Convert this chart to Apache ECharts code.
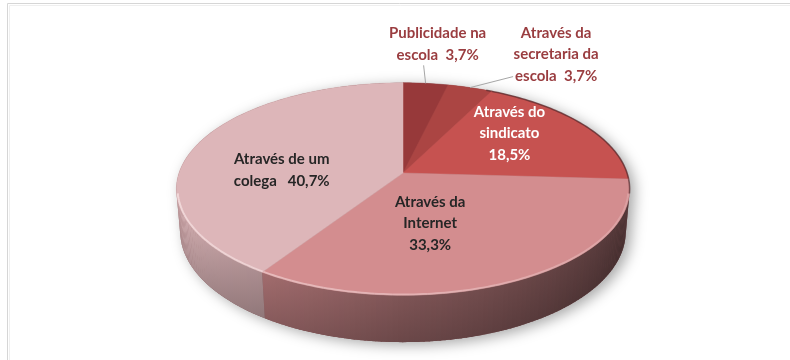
<!DOCTYPE html>
<html>
<head>
<meta charset="utf-8">
<script src="https://cdn.jsdelivr.net/npm/echarts@6/dist/echarts.min.js"></script>
<style>
  html, body { margin: 0; padding: 0; background: #ffffff; }
  #chart { width: 790px; height: 360px; }
</style>
</head>
<body>
<div id="chart"></div>
<script>
// Como os professores souberam da formação
const categories = [
  'Publicidade na\nescola',
  'Através da\nsecretaria da\nescola',
  'Através do\nsindicato',
  'Através da\nInternet',
  'Através de um\ncolega'
];
const values = [3.7, 3.7, 18.5, 33.3, 40.7];
// text placed between the category name and its percentage
const valueSeparators = ['  ', '  ', '\n', '\n', '   '];

// slice styling
const sliceColors = ['#97393a', '#ab4543', '#c65250', '#d38d8f', '#ddb6b9'];
const labelColors = ['#9a3d40', '#9a3d40', '#ffffff', '#262626', '#262626'];
// label anchor: fraction of radius along the slice mid-angle, then a pixel nudge
const labelPlacement = [
  { r: 1.0,  dx: 12,  dy: -39, leader: [-14, 21] },
  { r: 1.0,  dx: 86,  dy: -33, leader: [-43, 22] },
  { r: 0.55, dx: 4,   dy: -12, leader: null },
  { r: 0.45, dx: -21, dy: 6,   leader: null },
  { r: 0.55, dx: -6,  dy: 13,  leader: null }
];

// perspective camera for the tilted disc
const cam = {
  cx: 403, cy: 173, f: 1315, D: 5.87,
  elev: 27.6 * Math.PI / 180, depth: 0.215
};
const sinE = Math.sin(cam.elev), cosE = Math.cos(cam.elev);
// side wall faces the camera where cos(theta) < -1/(D cosE)
const wallFrom = Math.acos(-1 / (cam.D * cosE)) * 180 / Math.PI;
const wallTo = 360 - wallFrom;

function project(thetaDeg, r, z) {
  const t = thetaDeg * Math.PI / 180;
  const X = r * Math.sin(t), Y = r * Math.cos(t);
  const v = Y * sinE + z * cosE;
  const w = cam.D + Y * cosE - z * sinE;
  return [cam.cx + cam.f * X / w, cam.cy - cam.f * v / w];
}

const total = values.reduce((a, b) => a + b, 0);
const cumulative = [0];
values.forEach((v, i) => cumulative.push(cumulative[i] + v));
const angleOf = (c) => c / total * 360;

// brightness of the outer wall by angle (lit from the left)
const wallLight = [[101, 0.33], [140, 0.43], [180, 0.56], [213, 0.72], [240, 0.85], [260, 0.92]];
function lightAt(theta) {
  if (theta <= wallLight[0][0]) return wallLight[0][1];
  for (let i = 1; i < wallLight.length; i++) {
    if (theta <= wallLight[i][0]) {
      const [a, ka] = wallLight[i - 1], [b, kb] = wallLight[i];
      return ka + (kb - ka) * (theta - a) / (b - a);
    }
  }
  return wallLight[wallLight.length - 1][1];
}
function shade(hex, k) {
  const n = parseInt(hex.slice(1), 16);
  const c = [(n >> 16) & 255, (n >> 8) & 255, n & 255].map(x => Math.max(0, Math.min(255, Math.round(x * k))));
  return 'rgb(' + c.join(',') + ')';
}

function arcPoints(a0, a1, r, z, step) {
  const pts = [];
  const n = Math.max(1, Math.ceil((a1 - a0) / step));
  for (let j = 0; j <= n; j++) pts.push(project(a0 + (a1 - a0) * j / n, r, z));
  return pts;
}

function renderSlice(params, api) {
  const i = params.dataIndex;
  const a0 = angleOf(cumulative[i]);
  const a1 = angleOf(cumulative[i] + api.value(0));
  const base = sliceColors[i];
  const children = [];

  if (i === 0) {
    // silhouette of the whole disc, casting the soft shadow
    const sil = arcPoints(wallFrom, wallTo, 1, -cam.depth, 2)
      .concat(arcPoints(wallTo, wallFrom + 360, 1, 0, 2));
    children.push({
      type: 'polygon', shape: { points: sil },
      style: { fill: '#7a4c4f', shadowBlur: 14, shadowColor: 'rgba(0,0,0,0.35)', shadowOffsetX: 5, shadowOffsetY: 3 }
    });
  }

  // front wall, split in thin strips for smooth lighting
  const w0 = Math.max(a0, wallFrom), w1 = Math.min(a1, wallTo);
  if (w1 > w0) {
    const n = Math.max(1, Math.ceil((w1 - w0) / 1.2));
    for (let j = 0; j < n; j++) {
      const t0 = w0 + (w1 - w0) * j / n;
      const t1 = Math.min(w1, w0 + (w1 - w0) * (j + 1) / n + 0.35);
      const k = lightAt(w0 + (w1 - w0) * (j + 0.5) / n);
      const top = shade(base, k * 1.07), bottom = shade(base, k * 0.9);
      children.push({
        type: 'polygon',
        shape: { points: arcPoints(t0, t1, 1, 0, 0.5).concat(arcPoints(t0, t1, 1, -cam.depth, 0.5).reverse()) },
        style: {
          fill: { type: 'linear', x: 0, y: 0, x2: 0, y2: 1, colorStops: [{ offset: 0, color: top }, { offset: 1, color: bottom }] }
        }
      });
    }
  }

  // top face
  const face = [project(0, 0, 0)].concat(arcPoints(a0, a1, 1, 0, 1));
  children.push({
    type: 'polygon', shape: { points: face },
    style: { fill: base, stroke: base, lineWidth: 0.5 }
  });

  // bevel highlight on the front rim
  const h0 = Math.max(a0, wallFrom), h1 = Math.min(a1, wallTo);
  if (h1 > h0) {
    const n = Math.max(1, Math.ceil((h1 - h0) / 4));
    for (let j = 0; j < n; j++) {
      const t0 = h0 + (h1 - h0) * j / n, t1 = h0 + (h1 - h0) * (j + 1) / n;
      const alpha = 0.18 + 0.4 * ((t0 + t1) / 2 - wallFrom) / (wallTo - wallFrom);
      children.push({
        type: 'polyline', shape: { points: arcPoints(t0, t1, 0.995, 0, 1) },
        style: { stroke: 'rgba(255,240,240,' + alpha.toFixed(3) + ')', lineWidth: 2, fill: null }
      });
    }
  }
  // darker edge on the shaded right side
  const d0 = Math.max(a0, 25), d1 = Math.min(a1, wallFrom);
  if (d1 > d0) {
    children.push({
      type: 'polyline', shape: { points: arcPoints(d0, d1, 1, 0, 1) },
      style: { stroke: 'rgba(70,35,38,0.6)', lineWidth: 1.6, fill: null }
    });
  }

  return { type: 'group', children };
}

function formatPct(v) {
  return v.toFixed(1).replace('.', ',') + '%';
}

function renderLabel(params, api) {
  const i = params.dataIndex;
  const a0 = angleOf(cumulative[i]);
  const a1 = angleOf(cumulative[i] + api.value(0));
  const mid = (a0 + a1) / 2;
  const p = labelPlacement[i];
  const anchor = project(mid, p.r, 0);
  const lx = anchor[0] + p.dx, ly = anchor[1] + p.dy;
  const children = [];
  if (p.leader) {
    const edge = project(mid, 1, 0);
    children.push({
      type: 'polyline',
      shape: { points: [edge, [lx + p.leader[0], ly + p.leader[1]]] },
      style: { stroke: '#a6a6a6', lineWidth: 1, fill: null }
    });
  }
  children.push({
    type: 'text', x: lx, y: ly,
    style: {
      text: categories[i] + valueSeparators[i] + formatPct(api.value(0)),
      fill: labelColors[i],
      fontFamily: 'Lato', fontWeight: 'bold', fontSize: 15,
      lineHeight: 21.5, align: 'center', verticalAlign: 'middle'
    }
  });
  return { type: 'group', children };
}

const chart = echarts.init(document.getElementById('chart'), null, { renderer: 'canvas' });
chart.setOption({
  animation: false,
  backgroundColor: '#ffffff',
  graphic: [
    { type: 'rect', silent: true, shape: { x: 7.5, y: 3.5, width: 900, height: 500 }, style: { fill: null, stroke: '#d6d6d6', lineWidth: 1 } },
    { type: 'rect', silent: true, shape: { x: 9.5, y: 5.5, width: 900, height: 500 }, style: { fill: null, stroke: '#efefef', lineWidth: 1 } }
  ],
  series: [
    {
      type: 'custom', coordinateSystem: 'none', silent: true,
      data: values.map(v => [v]),
      renderItem: renderSlice
    },
    {
      type: 'custom', coordinateSystem: 'none', silent: true,
      data: values.map(v => [v]),
      renderItem: renderLabel
    }
  ]
});
</script>
</body>
</html>
